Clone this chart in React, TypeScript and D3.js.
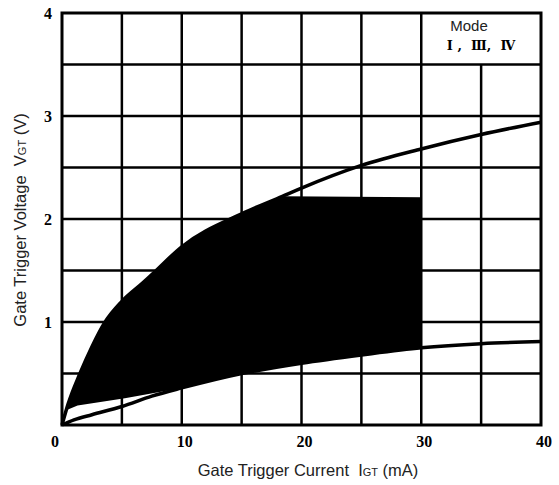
import React from "react";
import * as d3 from "d3";

// upper limit curve (mA, V)
const upperCurve: [number, number][] = [
  [0, 0], [0.5, 0.2], [1.5, 0.5], [2.5, 0.76], [3.6, 1.0], [5, 1.2], [6.75, 1.38],
  [7.5, 1.46], [10, 1.73], [15, 2.05], [18.4, 2.22], [20, 2.3], [25, 2.52],
  [30, 2.68], [35, 2.82], [40, 2.94],
];
// lower limit curve
const lowerCurve: [number, number][] = [
  [0, 0], [1, 0.05], [2.5, 0.1], [5, 0.18], [7.5, 0.28], [10, 0.36], [15, 0.5],
  [20, 0.6], [25, 0.68], [30, 0.75], [35, 0.79], [40, 0.81],
];
// shaded trigger area
const darkTop = 2.21;
const darkRight = 30;
const darkBottomLeft: [number, number][] = [[10, 0.36], [5.25, 0.26], [1.3, 0.19], [0.5, 0.15]];

const xTicks = [0, 10, 20, 30, 40];
const yTicks = [1, 2, 3, 4];
const xGrid = d3.range(5, 40, 5);
const yGrid = d3.range(0.5, 4, 0.5);

const W = 559, H = 485;

export default function App() {
  const x = d3.scaleLinear().domain([0, 40]).range([62, 541]);
  const y = d3.scaleLinear().domain([0, 4]).range([425, 13]);

  const smooth = d3.line<[number, number]>().x(d => x(d[0])).y(d => y(d[1])).curve(d3.curveMonotoneX);
  const straight = d3.line<[number, number]>().x(d => x(d[0])).y(d => y(d[1]));

  const upperSeg = upperCurve.filter(d => d[0] >= 0.5 && d[0] <= 18.4);
  const lowerSeg = lowerCurve.filter(d => d[0] >= 10 && d[0] <= darkRight).reverse();
  const rest: [number, number][] = [
    [darkRight, darkTop],
    ...lowerSeg,
    ...darkBottomLeft,
  ];
  const darkPath = smooth(upperSeg)! + straight(rest)!.replace(/^M/, "L") + "Z";

  const sans = "'Liberation Sans', Arial, sans-serif";
  const serif = "'Liberation Serif', 'Times New Roman', serif";

  return (
    <svg width={W} height={H} style={{ position: "absolute", left: 0, top: 0, background: "#fff" }}>
      {/* grid */}
      {xGrid.map(v => (
        <line key={"gx" + v} x1={x(v)} x2={x(v)} y1={y(0)} y2={v > 30 ? y(3.5) : y(4)}
          stroke="#000" strokeWidth={2.5} />
      ))}
      {yGrid.map(v => (
        <line key={"gy" + v} x1={x(0)} x2={x(40)} y1={y(v)} y2={y(v)} stroke="#000" strokeWidth={2.5} />
      ))}

      {/* shaded area */}
      <path d={darkPath} fill="#000" />

      {/* curves */}
      <path d={smooth(upperCurve)!} fill="none" stroke="#000" strokeWidth={3.5} />
      <path d={smooth(lowerCurve)!} fill="none" stroke="#000" strokeWidth={3.5} />

      {/* frame */}
      <rect x={x(0)} y={y(4)} width={x(40) - x(0)} height={y(0) - y(4)} fill="none" stroke="#000" strokeWidth={3} />

      {/* mode label */}
      <text x={469} y={31} textAnchor="middle" fontFamily={sans} fontSize={15} fill="#222">Mode</text>
      <text x={481} y={50} textAnchor="middle" fontFamily="'DejaVu Serif', serif" fontWeight="bold"
        fontSize={13} fill="#000" style={{ whiteSpace: "pre" }}>{"Ⅰ ,  Ⅲ,  Ⅳ"}</text>

      {/* tick labels */}
      {xTicks.map(v => (
        <text key={"tx" + v} x={v === 0 ? x(v) - 7 : x(v) + 3} y={447} textAnchor="middle"
          fontFamily={serif} fontWeight="bold" fontSize={16} fill="#000">{v}</text>
      ))}
      {yTicks.map(v => (
        <text key={"ty" + v} x={52} y={y(v) + 6} textAnchor="end"
          fontFamily={serif} fontWeight="bold" fontSize={16} fill="#000">{v}</text>
      ))}

      {/* axis titles */}
      <text x={308} y={476} textAnchor="middle" fontFamily={sans} fontSize={16.5} fill="#222">
        Gate Trigger Current{"\u00a0\u00a0"}I<tspan fontSize={11}>GT</tspan> (mA)
      </text>
      <text transform={`translate(26,${220}) rotate(-90)`} textAnchor="middle" fontFamily={sans} fontSize={16.5} fill="#222">
        Gate Trigger Voltage{"\u00a0\u00a0"}V<tspan fontSize={11}>GT</tspan> (V)
      </text>
    </svg>
  );
}
